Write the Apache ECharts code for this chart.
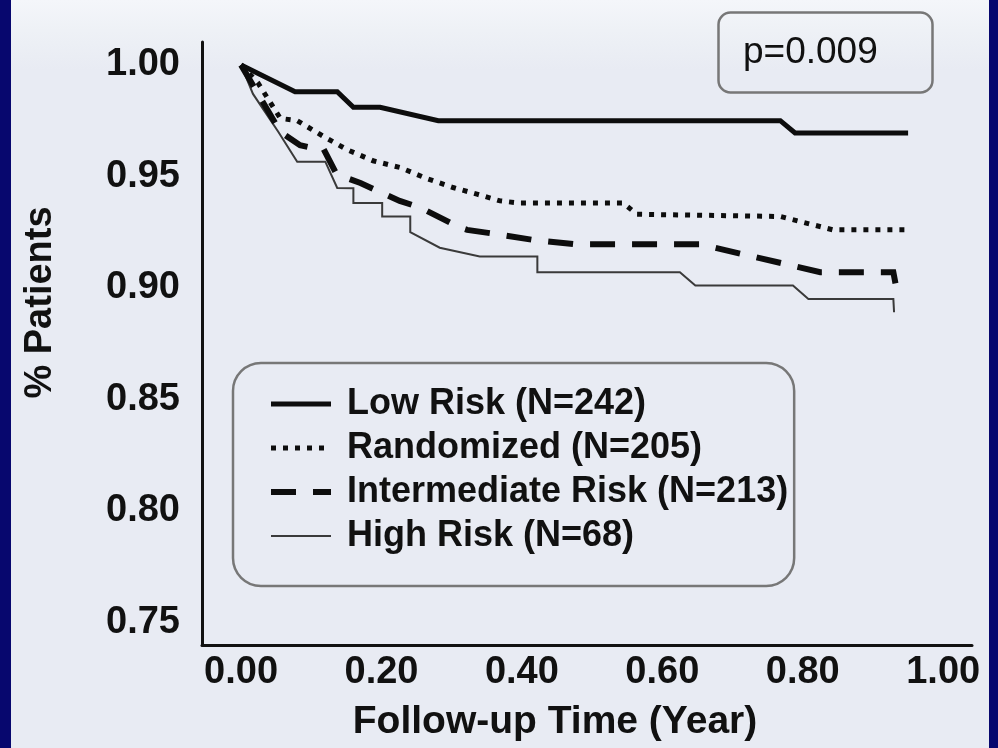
<!DOCTYPE html>
<html>
<head>
<meta charset="utf-8">
<script src="https://cdn.jsdelivr.net/npm/echarts@6/dist/echarts.min.js"></script>
<style>
  html, body { margin: 0; padding: 0; }
  body {
    width: 998px; height: 748px; overflow: hidden;
    background:
      linear-gradient(to right, #07076e 0, #07076e 11px, transparent 11px, transparent 989px, #07076e 989px),
      linear-gradient(to bottom, #f4f6fa 0, #eef1f6 30px, #e8ebf3 70px, #e8ebf3 100%);
  }
  #chart { width: 998px; height: 748px; }
</style>
</head>
<body>
<div id="chart"></div>
<script>
// ---- data (time in years, proportion event-free) ----
const seriesNames = ['Low Risk (N=242)', 'Randomized (N=205)', 'Intermediate Risk (N=213)', 'High Risk (N=68)'];

const lowRisk = [[0,1.000],[0.077,0.988],[0.137,0.988],[0.160,0.981],[0.198,0.981],[0.281,0.975],
  [0.768,0.975],[0.789,0.9695],[0.950,0.9695]];

const randomized = [[0,1.000],[0.024,0.992],[0.056,0.976],[0.080,0.975],[0.117,0.968],[0.151,0.962],
  [0.188,0.957],[0.226,0.954],[0.265,0.949],[0.302,0.945],[0.336,0.942],[0.369,0.939],[0.397,0.938],
  [0.544,0.938],[0.564,0.933],[0.768,0.932],[0.843,0.926],[0.946,0.926]];

const intermediate = [[0,1.000],[0.056,0.970],[0.084,0.964],[0.098,0.963],[0.117,0.9626],[0.136,0.951],
  [0.170,0.947],[0.198,0.943],[0.226,0.939],[0.255,0.936],[0.312,0.927],[0.322,0.926],[0.355,0.9245],
  [0.416,0.9215],[0.476,0.9195],[0.654,0.9195],[0.825,0.907],[0.929,0.907],[0.932,0.902]];

const highRisk = [[0,1.000],[0.017,0.987],[0.053,0.970],[0.080,0.9566],[0.120,0.9566],[0.137,0.9448],
  [0.160,0.9447],[0.160,0.938],[0.201,0.938],[0.201,0.932],[0.241,0.932],[0.241,0.925],[0.283,0.918],
  [0.340,0.914],[0.422,0.914],[0.422,0.907],[0.625,0.907],[0.647,0.901],[0.786,0.901],[0.808,0.895],
  [0.929,0.895],[0.930,0.889]];

const xTicks = [0, 0.2, 0.4, 0.6, 0.8, 1.0];
const yTicks = [0.75, 0.80, 0.85, 0.90, 0.95, 1.00];
const pValueText = 'p=0.009';

// ---- chart ----
const FONT = '"Liberation Sans", Arial, sans-serif';
const INK = '#111111';
const chart = echarts.init(document.getElementById('chart'), null, { renderer: 'canvas' });

const seriesData = [lowRisk, randomized, intermediate, highRisk];
const seriesLine = [
  { width: 5, type: 'solid', color: '#0d0d0d' },
  { width: 5, type: [5, 7], color: '#0d0d0d' },
  { width: 6, type: [25, 17], color: '#0d0d0d' },
  { width: 2, type: 'solid', color: '#3a3a3a' }
];

chart.setOption({
  backgroundColor: 'transparent',
  animation: false,
  textStyle: { fontFamily: FONT },
  title: {
    text: pValueText,
    left: 718, top: 12,
    padding: [22, 55, 22, 25],
    borderColor: '#777777', borderWidth: 2.5, borderRadius: 12,
    textStyle: { fontSize: 37, fontWeight: 'normal', color: INK, fontFamily: FONT, lineHeight: 37 }
  },
  legend: {
    orient: 'vertical',
    left: 233, top: 363,
    padding: [21, 6, 30, 35],
    itemWidth: 60, itemHeight: 14, itemGap: 4,
    borderColor: '#777777', borderWidth: 2.5, borderRadius: 28,
    itemStyle: { opacity: 0 },
    textStyle: { fontSize: 36, fontWeight: 'bold', color: INK, fontFamily: FONT, lineHeight: 40, padding: [0, 0, 0, 11] },
    data: seriesNames.map((name, i) => ({
      name: name,
      itemStyle: { opacity: 0 },
      lineStyle: { width: seriesLine[i].width, type: seriesLine[i].type, color: seriesLine[i].color, cap: 'butt' }
    }))
  },
  grid: { left: 202, right: 26, top: 42, bottom: 103 },
  xAxis: {
    type: 'value',
    min: -0.0556, max: 1.041,
    name: 'Follow-up Time (Year)',
    nameLocation: 'middle', nameGap: 58,
    nameTextStyle: { fontSize: 39, fontWeight: 'bold', color: INK, fontFamily: FONT, padding: [0, 64, 0, 0] },
    axisLine: { show: true, onZero: false, lineStyle: { color: INK, width: 3 } },
    axisTick: { show: false },
    splitLine: { show: false },
    axisLabel: {
      customValues: xTicks,
      formatter: v => v.toFixed(2),
      fontSize: 38, fontWeight: 'bold', color: INK, fontFamily: FONT, margin: 9
    }
  },
  yAxis: {
    type: 'value',
    min: 0.7397, max: 1.0103,
    name: '% Patients',
    nameLocation: 'middle', nameGap: 142,
    nameTextStyle: { fontSize: 38, fontWeight: 'bold', color: INK, fontFamily: FONT, padding: [0, 0, 0, 82] },
    axisLine: { show: true, onZero: false, lineStyle: { color: INK, width: 3 } },
    axisTick: { show: false },
    splitLine: { show: false },
    axisLabel: {
      customValues: yTicks,
      formatter: v => v.toFixed(2),
      fontSize: 38, fontWeight: 'bold', color: INK, fontFamily: FONT, margin: 22
    }
  },
  series: seriesNames.map((name, i) => ({
    name: name,
    type: 'line',
    data: seriesData[i],
    symbol: 'none',
    showSymbol: false,
    smooth: false,
    color: seriesLine[i].color,
    lineStyle: { width: seriesLine[i].width, type: seriesLine[i].type, color: seriesLine[i].color, cap: 'butt', join: 'miter' },
    z: 10 - i
  }))
});
</script>
</body>
</html>
